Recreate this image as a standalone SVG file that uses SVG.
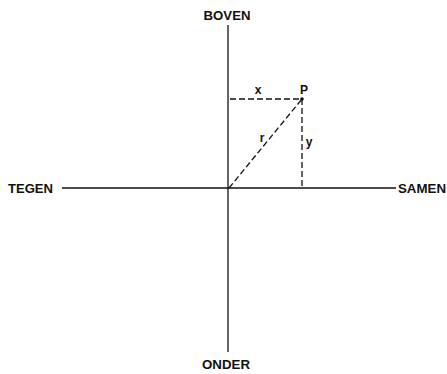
<svg xmlns="http://www.w3.org/2000/svg" width="447" height="374" viewBox="0 0 447 374">
<style>
text{font-family:"Liberation Sans",Arial,sans-serif;font-weight:bold;fill:#111}
.lbl{font-size:12px}
.ax{stroke:#111;stroke-width:1.3;fill:none}
.d{stroke:#111;stroke-width:1.3;fill:none;stroke-dasharray:6,3}
</style>
<rect width="447" height="374" fill="#fff"/>
<g id="connectors">
<line class="ax" x1="228" y1="25" x2="228" y2="352"/>
<line class="ax" x1="62" y1="188" x2="396" y2="188"/>
<line class="d" x1="230" y1="99" x2="302" y2="99"/>
<line class="d" x1="302" y1="99" x2="302" y2="188"/>
<line class="d" x1="229" y1="188" x2="302" y2="99"/>
</g>
<g id="boven"><text class="lbl" x="227" y="20" text-anchor="middle" textLength="47" lengthAdjust="spacingAndGlyphs">BOVEN</text></g>
<g id="onder"><text class="lbl" x="226" y="369" text-anchor="middle" textLength="48" lengthAdjust="spacingAndGlyphs">ONDER</text></g>
<g id="tegen"><text class="lbl" x="8" y="193" textLength="45" lengthAdjust="spacingAndGlyphs">TEGEN</text></g>
<g id="samen"><text class="lbl" x="398" y="193" textLength="48" lengthAdjust="spacingAndGlyphs">SAMEN</text></g>
<g id="P"><circle cx="302" cy="99" r="1.8" fill="#111"/><text class="lbl" x="304" y="94" text-anchor="middle">P</text></g>
<g id="x"><text class="lbl" x="258" y="94" text-anchor="middle">x</text></g>
<g id="y"><text class="lbl" x="309" y="146" text-anchor="middle">y</text></g>
<g id="r"><text class="lbl" x="262" y="142" text-anchor="middle">r</text></g>
</svg>
